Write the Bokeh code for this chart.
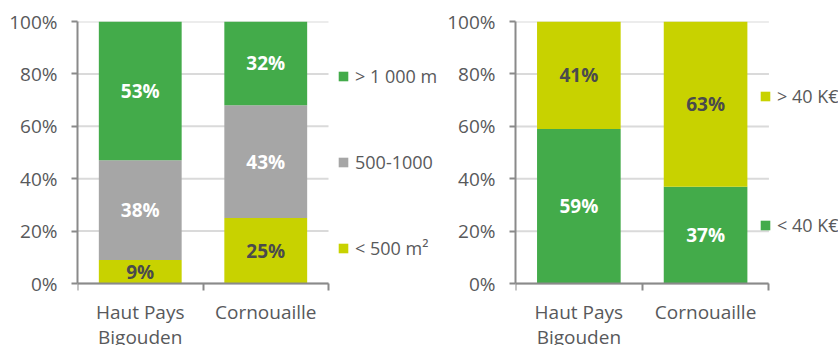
from bokeh.plotting import figure
from bokeh.models import ColumnDataSource, Range1d, FixedTicker, Legend, LegendItem
from bokeh.layouts import row
from bokeh.embed import file_html
from bokeh.resources import INLINE
from bokeh.core.properties import value

# ---- data ----
categories = ["Haut Pays\nBigouden", "Cornouaille"]
y_ticks = [0, 20, 40, 60, 80, 100]
y_tick_labels = ["0%", "20%", "40%", "60%", "80%", "100%"]

size_series = ["< 500 m²", "500-1000", "> 1 000 m"]
size_lt500 = [9, 25]
size_500_1000 = [38, 43]
size_gt1000 = [53, 32]

income_series = ["< 40 K€", "> 40 K€"]
income_lt40 = [59, 37]
income_gt40 = [41, 63]

# ---- style ----
GREEN = "#43ab4a"
GRAY = "#a6a6a6"
YELLOW = "#c8d200"
TEXT = "#58595b"
DARK = "#4a4a4c"
AXIS = "#8a8a8a"
GRID = "#dadada"
FONT = "Open Sans"
H = 345
BELOW = 62  # pixels between the 0 % line and the bottom of the figure


def make_panel(width, b_left, b_top, plot_w, names, values, colors, label_colors,
               legend_x, legend_y, legend_spacing):
    n = len(categories)
    xs = [i + 0.5 for i in range(n)]
    frame_w = width - b_left
    x_end = n * frame_w / plot_w
    plot_h = H - b_top - BELOW
    y_start = -100 * BELOW / plot_h
    p = figure(width=width, height=H, x_range=Range1d(0, x_end),
               y_range=Range1d(y_start, 100),
               output_backend="svg", toolbar_location=None,
               min_border_left=b_left, min_border_right=0,
               min_border_top=b_top, min_border_bottom=0)
    p.outline_line_color = None
    p.grid.visible = False

    # horizontal grid lines across the category area
    p.segment(x0=0, x1=n, y0=y_ticks, y1=y_ticks, line_color=GRID, line_width=2,
              level="underlay")

    data = {"x": xs}
    keys = []
    for k, vals in enumerate(values):
        data[f"s{k}"] = vals
        keys.append(f"s{k}")
    src = ColumnDataSource(data)
    rs = p.vbar_stack(keys, x="x", width=0.66, source=src, color=colors, line_color=None)

    base = [0] * n
    for k, vals in enumerate(values):
        mids = [b + v / 2 for b, v in zip(base, vals)]
        base = [b + v for b, v in zip(base, vals)]
        ls = ColumnDataSource(dict(x=xs, y=mids, t=[f"{v}%" for v in vals]))
        p.text(x="x", y="y", text="t", source=ls, text_align="center",
               text_baseline="middle", text_font=value(FONT), text_font_style="bold",
               text_font_size="19px", text_color=label_colors[k])

    # y axis
    ya = p.yaxis[0]
    ya.bounds = (y_ticks[0], y_ticks[-1])
    ya.ticker = FixedTicker(ticks=y_ticks)
    ya.major_label_overrides = dict(zip(y_ticks, y_tick_labels))
    ya.axis_line_color = AXIS
    ya.axis_line_width = 2
    ya.major_tick_line_color = AXIS
    ya.major_tick_line_width = 2
    ya.major_tick_in = 0
    ya.major_tick_out = 6
    ya.minor_tick_line_color = None
    ya.major_label_standoff = 14
    ya.major_label_text_font = FONT
    ya.major_label_text_font_size = "19px"
    ya.major_label_text_color = TEXT

    # x axis, drawn on the 0 % line
    xa = p.xaxis[0]
    xa.fixed_location = 0
    xa.bounds = (0, n)
    xa.ticker = FixedTicker(ticks=xs, minor_ticks=list(range(n + 1)))
    xa.major_label_overrides = dict(zip(xs, categories))
    xa.axis_line_color = AXIS
    xa.axis_line_width = 2
    xa.major_tick_line_color = None
    xa.major_tick_in = 0
    xa.major_tick_out = 0
    xa.minor_tick_line_color = AXIS
    xa.minor_tick_line_width = 2
    xa.minor_tick_in = 0
    xa.minor_tick_out = 7
    xa.major_label_standoff = 8
    xa.major_label_text_font = FONT
    xa.major_label_text_font_size = "19px"
    xa.major_label_text_line_height = 0.97
    xa.major_label_text_color = TEXT

    items = [LegendItem(label=names[k], renderers=[rs[k]]) for k in reversed(range(len(names)))]
    leg = Legend(items=items, location=(legend_x, legend_y), orientation="vertical",
                 spacing=legend_spacing, padding=0, margin=0,
                 glyph_width=12, glyph_height=12, label_height=26,
                 label_standoff=6, label_text_font=FONT, label_text_font_size="18px",
                 label_text_color=TEXT, border_line_color=None,
                 background_fill_alpha=0)
    p.add_layout(leg, "center")
    return p


left = make_panel(444, 77, 21, 251, size_series, [size_lt500, size_500_1000, size_gt1000],
                  [YELLOW, GRAY, GREEN], [DARK, "white", "white"], 260, 84, 60)
right = make_panel(394, 69, 20, 255, income_series, [income_lt40, income_gt40],
                   [GREEN, YELLOW], ["white", DARK], 244, 107, 103)

layout = row(left, right)
open("out.html", "w").write(file_html(layout, INLINE))
